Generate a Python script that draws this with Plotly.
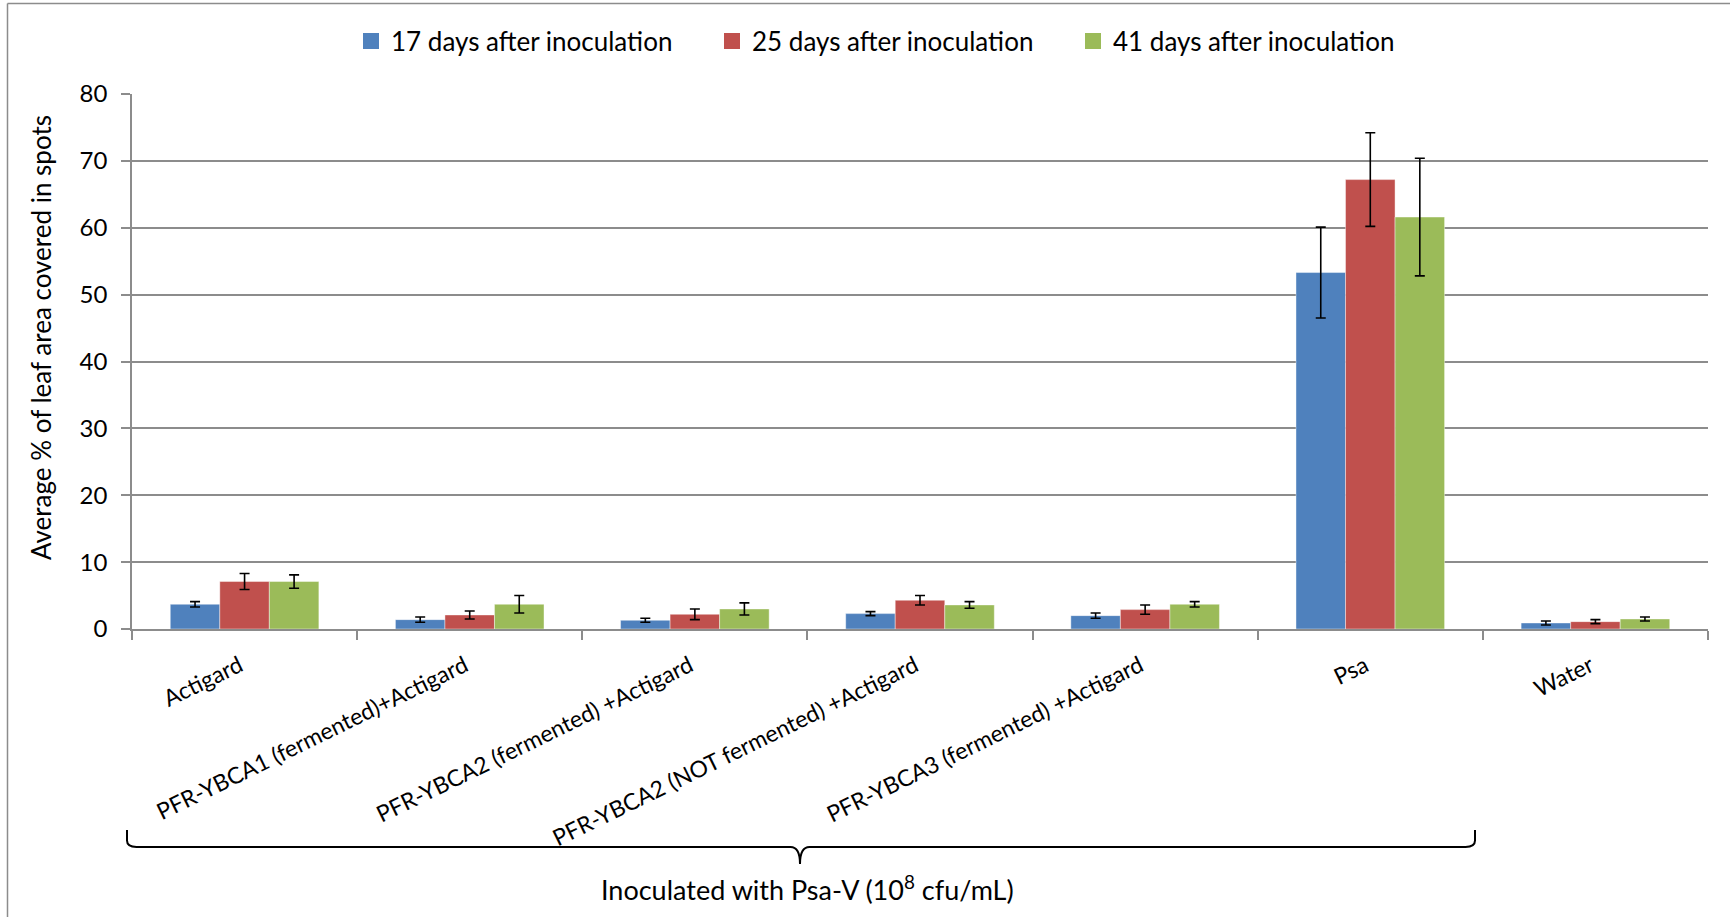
import plotly.graph_objects as go

categories = ["Actigard", "PFR-YBCA1 (fermented)+Actigard", "PFR-YBCA2 (fermented) +Actigard",
              "PFR-YBCA2 (NOT fermented) +Actigard", "PFR-YBCA3 (fermented) +Actigard", "Psa", "Water"]
series_names = ["17 days after inoculation", "25 days after inoculation", "41 days after inoculation"]
day17 = [3.7, 1.4, 1.3, 2.3, 2.0, 53.3, 0.9]
day25 = [7.1, 2.1, 2.2, 4.3, 2.9, 67.2, 1.1]
day41 = [7.1, 3.7, 3.0, 3.6, 3.7, 61.6, 1.5]
err17 = [0.4, 0.4, 0.3, 0.3, 0.4, 6.8, 0.3]
err25 = [1.2, 0.6, 0.8, 0.7, 0.7, 7.0, 0.3]
err41 = [1.0, 1.3, 0.9, 0.5, 0.4, 8.8, 0.3]
colors = ["#4F81BD", "#C0504D", "#9BBB59"]
y_ticks = [0, 10, 20, 30, 40, 50, 60, 70, 80]

W, H = 1730, 917
L, R, T, B = 132, 1708, 94, 629
FONT = "Lato"

def px(x):
    return (x - L) / (R - L)

def py(y):
    return (B - y) / (B - T)

fig = go.Figure()
for name, vals, errs, col in zip(series_names, [day17, day25, day41], [err17, err25, err41], colors):
    fig.add_trace(go.Bar(
        x=categories, y=vals, name=name, legendgroup=name, showlegend=False,
        marker=dict(color=col, line=dict(width=0.6, color="rgba(255,255,255,0.7)")),
        error_y=dict(type="data", array=errs, visible=True, color="black", thickness=1.6, width=5),
    ))
# legend entries with larger square swatches
for name, col in zip(series_names, colors):
    fig.add_trace(go.Scatter(
        x=[None], y=[None], mode="markers", name=name, legendgroup=name,
        marker=dict(symbol="square", size=16, color=col), showlegend=True,
    ))

# bracket under the first six categories
xl, xr, xm = px(127), px(1475), px(800)
yb, ye, yt = py(847), py(830), py(864)
r = 0.006
ry = 0.012
path = (f"M{xl},{ye} L{xl},{yb+ry} Q{xl},{yb} {xl+r},{yb} "
        f"L{xm-r},{yb} Q{xm},{yb} {xm},{yt} "
        f"Q{xm},{yb} {xm+r},{yb} L{xr-r},{yb} Q{xr},{yb} {xr},{yb+ry} L{xr},{ye}")
shapes = [
    dict(type="path", xref="paper", yref="paper", path=path, line=dict(color="black", width=2)),
    dict(type="line", xref="paper", yref="paper", x0=px(7.5), y0=py(3.5), x1=px(1735), y1=py(3.5),
         line=dict(color="#8c8c8c", width=1.5)),
    dict(type="line", xref="paper", yref="paper", x0=px(7.5), y0=py(3.5), x1=px(7.5), y1=py(925),
         line=dict(color="#8c8c8c", width=1.5)),
]

fig.update_layout(
    width=W, height=H,
    margin=dict(l=L, r=W - R, t=T, b=H - B, autoexpand=False),
    paper_bgcolor="white", plot_bgcolor="white",
    barmode="group", bargap=0.34, bargroupgap=0,
    font=dict(family=FONT, color="black"),
    legend=dict(orientation="h", x=px(351), xanchor="left", y=py(41), yanchor="middle",
                font=dict(family=FONT, size=26), entrywidth=316, entrywidthmode="pixels",
                traceorder="normal"),
    shapes=shapes,
    annotations=[
        dict(text="Inoculated with Psa-V (10<sup>8</sup> cfu/mL)", xref="paper", yref="paper",
             x=px(807), y=py(888), xanchor="center", yanchor="middle", showarrow=False,
             font=dict(family=FONT, size=27)),
        dict(text="Average % of leaf area covered in spots", xref="paper", yref="paper",
             x=px(41), y=py(338), xanchor="center", yanchor="middle", showarrow=False, textangle=-90,
             font=dict(family=FONT, size=26)),
    ],
)
fig.update_xaxes(
    type="category", tickangle=-26, tickson="boundaries", ticks="outside", ticklen=9,
    tickcolor="#8c8c8c", tickwidth=1.5, showline=True, linecolor="#8c8c8c", linewidth=1.5,
    tickfont=dict(family=FONT, size=23), showgrid=False, ticklabelstandoff=13, ticklabelshift=-5,
    automargin=False,
)
fig.update_yaxes(
    range=[0, 80], tickvals=y_ticks, ticks="outside", ticklen=9, tickcolor="#8c8c8c", tickwidth=1.5,
    showline=True, linecolor="#8c8c8c", linewidth=1.5, showgrid=True, gridcolor="#8c8c8c", gridwidth=1.5,
    tickfont=dict(family=FONT, size=24), ticklabelstandoff=9, zeroline=False, automargin=False,
)
fig.write_html("out.html", config={"displayModeBar": False},
               post_script="document.body.style.margin='0px';document.body.style.overflow='hidden';")
